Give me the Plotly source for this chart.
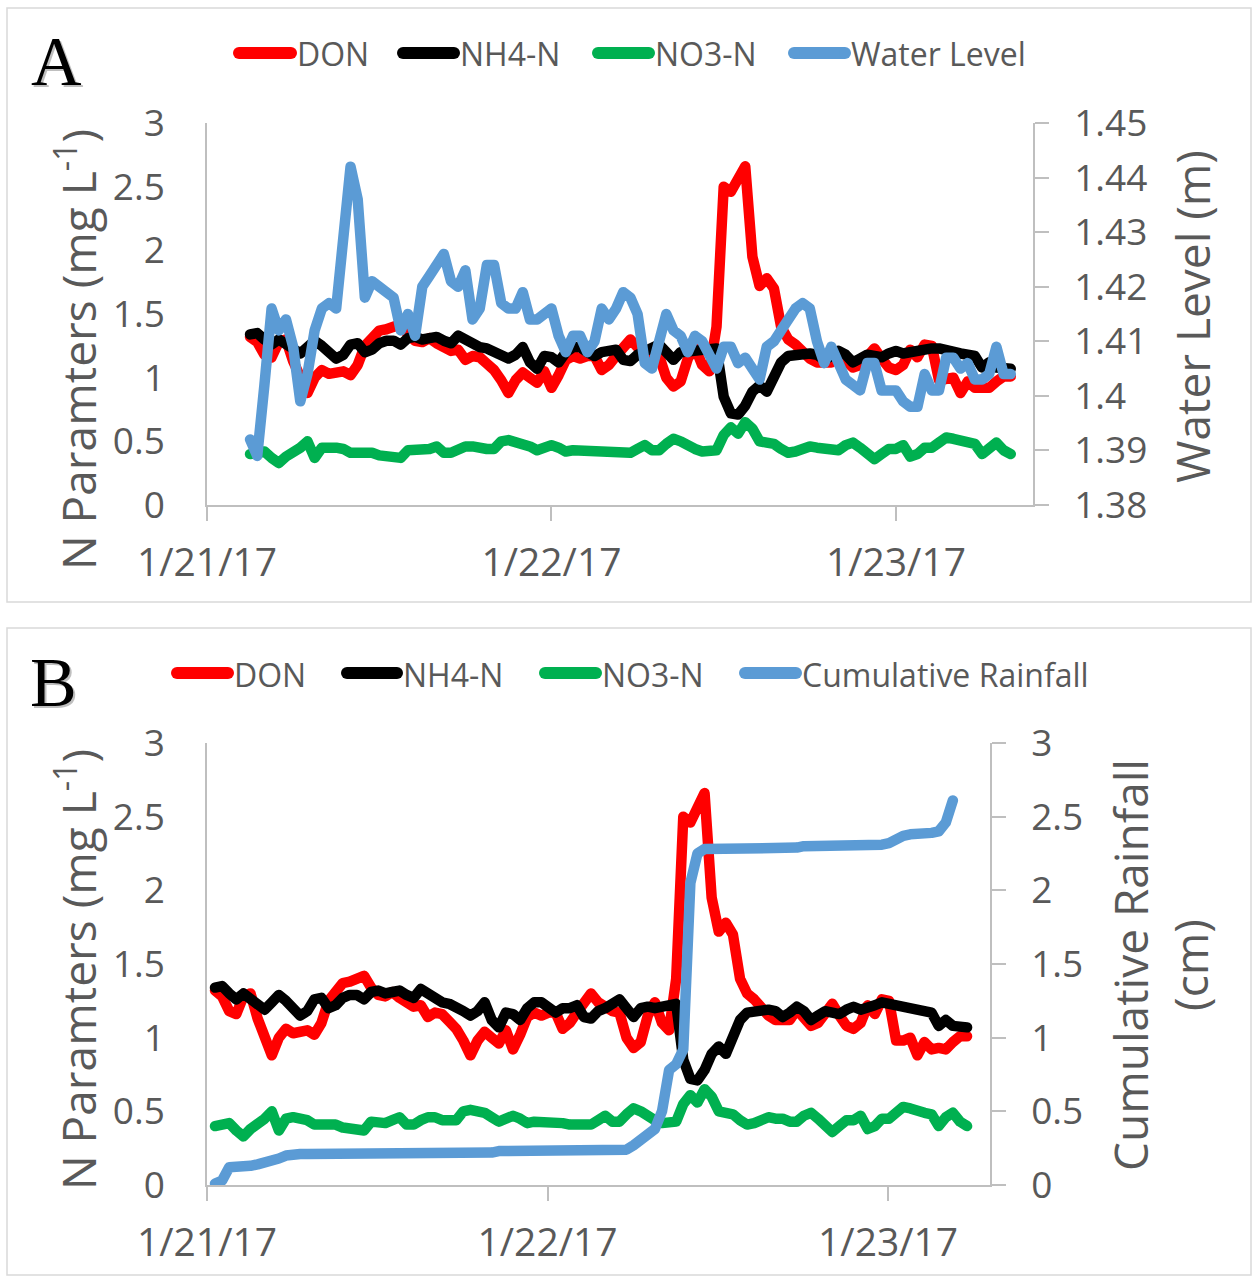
import pandas as pd
import plotly.graph_objects as go

W, H = 1253, 1277

# Half-hourly sampling; panel B axis is offset from panel A
times_a = pd.date_range("2017-01-21 03:00", periods=107, freq="30min")
times_b = pd.date_range("2017-01-21 00:34", periods=107, freq="30min")

don = [1.32, 1.28, 1.18, 1.16, 1.28, 1.30, 1.13, 1.00, 0.88, 1.00,
       1.06, 1.03, 1.04, 1.05, 1.02, 1.10, 1.25, 1.32, 1.37, 1.38,
       1.40, 1.42, 1.34, 1.29, 1.28, 1.31, 1.27, 1.23, 1.21, 1.22,
       1.14, 1.17, 1.16, 1.11, 1.06, 0.98, 0.88, 0.98, 1.04, 1.00,
       0.96, 1.05, 0.92, 1.02, 1.14, 1.17, 1.15, 1.17, 1.17, 1.06,
       1.10, 1.17, 1.24, 1.30, 1.24, 1.20, 1.18, 1.17, 1.00, 0.93,
       0.97, 1.15, 1.24, 1.10, 1.05, 1.40, 2.50, 2.46, 2.55, 2.66,
       1.95, 1.72, 1.78, 1.70, 1.40, 1.30, 1.26, 1.20, 1.15, 1.12,
       1.12, 1.12, 1.19, 1.14, 1.08, 1.10, 1.17, 1.23, 1.15, 1.08,
       1.06, 1.10, 1.22, 1.16, 1.26, 1.25, 0.98, 0.98, 1.00, 0.88,
       0.97, 0.92, 0.93, 0.92, 0.97, 1.01, 1.01]

nh4 = [1.34, 1.35, 1.30, 1.26, 1.30, 1.27, 1.24, 1.19, 1.24, 1.29,
       1.25, 1.20, 1.15, 1.18, 1.26, 1.27, 1.20, 1.22, 1.27, 1.29,
       1.29, 1.26, 1.31, 1.32, 1.30, 1.31, 1.32, 1.29, 1.27, 1.33,
       1.30, 1.26, 1.24, 1.23, 1.21, 1.18, 1.15, 1.18, 1.24, 1.12,
       1.07, 1.17, 1.16, 1.12, 1.20, 1.24, 1.24, 1.20, 1.17, 1.20,
       1.20, 1.22, 1.14, 1.13, 1.18, 1.20, 1.24, 1.26, 1.20, 1.14,
       1.20, 1.21, 1.20, 1.21, 1.22, 1.23, 0.85, 0.72, 0.71, 0.78,
       0.89, 0.94, 0.89, 1.02, 1.12, 1.17, 1.18, 1.19, 1.19, 1.18,
       1.14, 1.17, 1.21, 1.18, 1.12, 1.15, 1.18, 1.17, 1.16, 1.19,
       1.21, 1.19, 1.20, 1.22, 1.24, 1.23, 1.23, 1.21, 1.20, 1.19,
       1.18, 1.17, 1.08, 1.12, 1.08, 1.07, 1.07]

no3 = [0.40, 0.41, 0.42, 0.37, 0.33, 0.38, 0.41, 0.45, 0.50, 0.37,
       0.45, 0.46, 0.45, 0.44, 0.41, 0.41, 0.42, 0.41, 0.39, 0.38,
       0.37, 0.37, 0.43, 0.43, 0.42, 0.44, 0.46, 0.41, 0.41, 0.44,
       0.46, 0.46, 0.44, 0.44, 0.44, 0.50, 0.51, 0.50, 0.49, 0.46,
       0.43, 0.45, 0.47, 0.45, 0.42, 0.43, 0.43, 0.43, 0.42, 0.42,
       0.41, 0.41, 0.41, 0.41, 0.44, 0.47, 0.43, 0.43, 0.48, 0.52,
       0.50, 0.46, 0.44, 0.42, 0.42, 0.43, 0.55, 0.61, 0.56, 0.65,
       0.60, 0.50, 0.49, 0.48, 0.44, 0.41, 0.42, 0.45, 0.46, 0.45,
       0.45, 0.43, 0.43, 0.47, 0.49, 0.45, 0.40, 0.36, 0.40, 0.44,
       0.44, 0.47, 0.38, 0.40, 0.45, 0.45, 0.49, 0.53, 0.52, 0.50,
       0.49, 0.48, 0.40, 0.46, 0.49, 0.43, 0.40]

water_level = [1.392, 1.389, 1.402, 1.416, 1.412, 1.414, 1.409, 1.399, 1.404, 1.412,
               1.416, 1.417, 1.416, 1.430, 1.442, 1.436, 1.418, 1.421, 1.420, 1.419,
               1.418, 1.412, 1.415, 1.411, 1.420, 1.422, 1.424, 1.426, 1.421, 1.420,
               1.423, 1.414, 1.416, 1.424, 1.424, 1.417, 1.416, 1.416, 1.419, 1.414,
               1.414, 1.415, 1.416, 1.411, 1.408, 1.411, 1.411, 1.408, 1.410, 1.416,
               1.414, 1.416, 1.419, 1.418, 1.415, 1.406, 1.405, 1.410, 1.415, 1.412,
               1.411, 1.408, 1.411, 1.410, 1.407, 1.405, 1.409, 1.409, 1.406, 1.407,
               1.405, 1.403, 1.409, 1.410, 1.412, 1.414, 1.416, 1.417, 1.416, 1.410,
               1.406, 1.409, 1.406, 1.403, 1.402, 1.401, 1.406, 1.406, 1.401, 1.401,
               1.401, 1.399, 1.398, 1.398, 1.404, 1.401, 1.401, 1.407, 1.407, 1.405,
               1.406, 1.403, 1.403, 1.404, 1.409, 1.404, 1.404]

rainfall = [0.01, 0.03, 0.12, 0.12, 0.13, 0.13, 0.14, 0.15, 0.17, 0.18,
            0.20, 0.21, 0.21, 0.21, 0.21, 0.21, 0.21, 0.21, 0.21, 0.21,
            0.21, 0.21, 0.22, 0.22, 0.22, 0.22, 0.22, 0.22, 0.22, 0.22,
            0.22, 0.22, 0.22, 0.22, 0.22, 0.22, 0.22, 0.22, 0.22, 0.22,
            0.23, 0.23, 0.23, 0.23, 0.23, 0.23, 0.23, 0.23, 0.23, 0.23,
            0.23, 0.23, 0.23, 0.23, 0.23, 0.23, 0.23, 0.23, 0.24, 0.27,
            0.31, 0.34, 0.38, 0.50, 0.78, 0.82, 0.92, 2.05, 2.25, 2.28,
            2.28, 2.28, 2.28, 2.28, 2.28, 2.29, 2.29, 2.29, 2.29, 2.29,
            2.29, 2.29, 2.29, 2.30, 2.30, 2.30, 2.30, 2.30, 2.30, 2.30,
            2.30, 2.31, 2.31, 2.31, 2.31, 2.32, 2.35, 2.37, 2.38, 2.38,
            2.39, 2.39, 2.40, 2.46, 2.61]

date_ticks = ["2017-01-21", "2017-01-22", "2017-01-23"]
date_labels = ["1/21/17", "1/22/17", "1/23/17"]
n_ticks = [0, 0.5, 1, 1.5, 2, 2.5, 3]
n_labels = ["0", "0.5", "1", "1.5", "2", "2.5", "3"]
wl_ticks = [1.38, 1.39, 1.40, 1.41, 1.42, 1.43, 1.44, 1.45]
wl_labels = ["1.38", "1.39", "1.4", "1.41", "1.42", "1.43", "1.44", "1.45"]

RED, BLACK, GREEN, BLUE = "#FF0000", "#000000", "#00B050", "#5B9BD5"
TXT = "#595959"
AX = "#BFBFBF"
FONT = "Open Sans"
LW = 10.5


def px(x):
    return x / W


def py(y):
    return 1 - y / H


fig = go.Figure()

series = [("DON", don, RED), ("NH4-N", nh4, BLACK), ("NO3-N", no3, GREEN)]
for name, vals, col in series:
    fig.add_trace(go.Scatter(x=times_a, y=vals, mode="lines", name=name,
                             line=dict(color=col, width=LW),
                             xaxis="x", yaxis="y", showlegend=False))
fig.add_trace(go.Scatter(x=times_a, y=water_level, mode="lines", name="Water Level",
                         line=dict(color=BLUE, width=LW),
                         xaxis="x", yaxis="y2", showlegend=False))
for name, vals, col in series:
    fig.add_trace(go.Scatter(x=times_b, y=vals, mode="lines", name=name,
                             line=dict(color=col, width=LW),
                             xaxis="x2", yaxis="y3", showlegend=False))
fig.add_trace(go.Scatter(x=times_b[:len(rainfall)], y=rainfall, mode="lines",
                         name="Cumulative Rainfall",
                         line=dict(color=BLUE, width=LW),
                         xaxis="x2", yaxis="y4", showlegend=False))

tickfont = dict(family=FONT, size=37, color=TXT)
xtickfont = dict(family=FONT, size=39, color=TXT)
common = dict(showline=True, linecolor=AX, linewidth=1.5, showgrid=False,
              zeroline=False, fixedrange=True, automargin=False)

fig.update_layout(
    width=W, height=H,
    margin=dict(l=0, r=0, t=0, b=0, pad=0, autoexpand=False),
    paper_bgcolor="white", plot_bgcolor="rgba(0,0,0,0)",
    showlegend=False,
    xaxis=dict(domain=[px(207), px(1033)], anchor="y", type="date",
               range=["2017-01-21 00:00", "2017-01-23 09:33"],
               tickvals=date_ticks, ticktext=date_labels, tickfont=xtickfont,
               ticks="outside", ticklen=14, tickwidth=1.5, tickcolor=AX,
               ticklabelstandoff=8, **common),
    yaxis=dict(domain=[py(505), py(123)], anchor="x", range=[0, 3],
               tickvals=n_ticks, ticktext=n_labels, ticks="", tickfont=tickfont,
               ticklabelstandoff=33, **common),
    yaxis2=dict(overlaying="y", anchor="x", side="right", range=[1.38, 1.45],
                tickvals=wl_ticks, ticktext=wl_labels, tickfont=tickfont,
                ticks="outside", ticklen=14, tickwidth=1.5, tickcolor=AX,
                ticklabelstandoff=18, **common),
    xaxis2=dict(domain=[px(207), px(990)], anchor="y3", type="date",
                range=["2017-01-21 00:00", "2017-01-23 07:11"],
                tickvals=date_ticks, ticktext=date_labels, tickfont=xtickfont,
                ticks="outside", ticklen=14, tickwidth=1.5, tickcolor=AX,
                ticklabelstandoff=8, **common),
    yaxis3=dict(domain=[py(1185), py(743)], anchor="x2", range=[0, 3],
                tickvals=n_ticks, ticktext=n_labels, ticks="", tickfont=tickfont,
                ticklabelstandoff=33, **common),
    yaxis4=dict(overlaying="y3", anchor="x2", side="right", range=[0, 3],
                tickvals=n_ticks, ticktext=n_labels, tickfont=tickfont,
                ticks="outside", ticklen=14, tickwidth=1.5, tickcolor=AX,
                ticklabelstandoff=18, **common),
)

shapes = []
annotations = []

# panel frames
for y0, y1 in [(8, 602), (628, 1275)]:
    shapes.append(dict(type="rect", xref="paper", yref="paper",
                       x0=px(7), x1=px(1251), y0=py(y1), y1=py(y0),
                       line=dict(color="#D9D9D9", width=1.5),
                       fillcolor="rgba(0,0,0,0)", layer="below"))


def legend_item(x0, x1, yc, color, label):
    r = 6
    shapes.append(dict(type="rect", xref="paper", yref="paper",
                       x0=px(x0 + r), x1=px(x1 - r), y0=py(yc + r), y1=py(yc - r),
                       fillcolor=color, line=dict(width=0)))
    for cx in (x0 + r, x1 - r):
        shapes.append(dict(type="circle", xref="paper", yref="paper",
                           x0=px(cx - r), x1=px(cx + r), y0=py(yc + r), y1=py(yc - r),
                           fillcolor=color, line=dict(width=0)))
    annotations.append(dict(xref="paper", yref="paper", x=px(x1 - 2), y=py(yc + 1),
                            text=label, showarrow=False, xanchor="left",
                            yanchor="middle",
                            font=dict(family=FONT, size=32, color=TXT)))


legend_item(233, 297, 53, RED, "DON")
legend_item(397, 460, 53, BLACK, "NH4-N")
legend_item(592, 655, 53, GREEN, "NO3-N")
legend_item(788, 851, 53, BLUE, "Water Level")

legend_item(171, 234, 673, RED, "DON")
legend_item(341, 403, 673, BLACK, "NH4-N")
legend_item(539, 602, 673, GREEN, "NO3-N")
legend_item(739, 802, 673, BLUE, "Cumulative Rainfall")

# panel letters with a soft drop shadow
for letter, x, y in [("A", 56, 62), ("B", 53, 682)]:
    annotations.append(dict(xref="paper", yref="paper", x=px(x + 2), y=py(y + 2),
                            text=letter, showarrow=False,
                            xanchor="center", yanchor="middle",
                            font=dict(family="Liberation Serif", size=70,
                                      color="rgba(0,0,0,0.25)")))
    annotations.append(dict(xref="paper", yref="paper", x=px(x), y=py(y),
                            text=letter, showarrow=False,
                            xanchor="center", yanchor="middle",
                            font=dict(family="Liberation Serif", size=70,
                                      color="black")))

title_font = dict(family=FONT, size=46, color=TXT)
for x, y, text in [
    (76, 350, "N Paramters (mg L<sup>-1</sup>)"),
    (1192, 317, "Water Level (m)"),
    (76, 970, "N Paramters (mg L<sup>-1</sup>)"),
    (1160, 965, "Cumulative Rainfall<br>(cm)"),
]:
    annotations.append(dict(xref="paper", yref="paper", x=px(x), y=py(y),
                            text=text, textangle=-90, showarrow=False,
                            xanchor="center", yanchor="middle",
                            font=title_font))

fig.update_layout(shapes=shapes, annotations=annotations)

# rounded joins on the data lines
post = """
var gd = document.querySelector('.plotly-graph-div');
function roundLines(){
  document.querySelectorAll('.scatterlayer .js-line').forEach(function(p){
    p.style.strokeLinejoin = 'round';
    p.style.strokeLinecap = 'round';
  });
}
roundLines();
if (gd && gd.on) { gd.on('plotly_afterplot', roundLines); }
"""
fig.write_html("out.html", post_script=post)
